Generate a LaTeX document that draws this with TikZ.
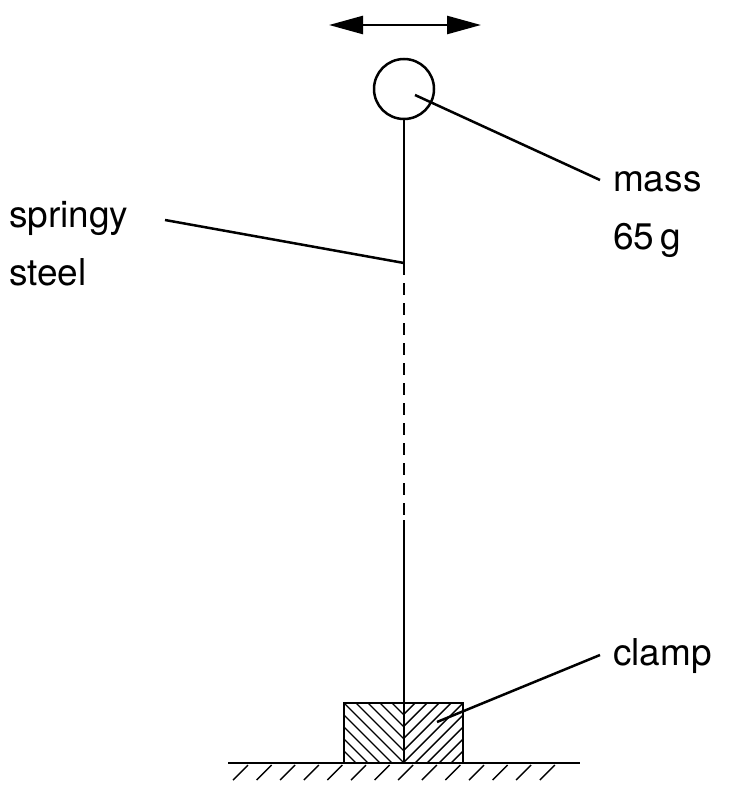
\documentclass[tikz,border=0pt]{standalone}
\usepackage{fontspec}
\setmainfont{TeX Gyre Heros}
\usetikzlibrary{arrows.meta}
\begin{document}
\begin{tikzpicture}[x=1pt,y=-1pt,line width=2.2pt,
  lab/.style={font=\fontsize{37}{44}\selectfont,align=left,inner sep=0pt},
  thin/.style={line width=1.4pt}]
\useasboundingbox (0,0) rectangle (743,795);
% arrow
\coordinate (al) at (329,25); \coordinate (ar) at (481,25);
\draw[line width=2.5pt,{Triangle[length=34pt,width=18pt]}-{Triangle[length=34pt,width=18pt]}] (al) -- (ar);
% mass
\node[circle,draw,minimum size=60pt,inner sep=0pt,line width=2.5pt] (m) at (404,89) {};
\coordinate (r1) at (404,263); \coordinate (r2) at (404,520); \coordinate (r3) at (404,703);
\draw (m.south) -- (r1);
\draw[dash pattern=on 12pt off 8pt] (r1) -- (r2);
\draw (r2) -- (r3);
% clamp
\node[draw,minimum width=119pt,minimum height=60pt,inner sep=0pt,line width=2.5pt] (c) at (403.5,733) {};
\begin{scope}
\clip (344,703) rectangle (404,763);
\foreach \i in {-60,-48,...,72} \draw[thin] (344+\i,703) -- (404+\i,763);
\end{scope}
\begin{scope}
\clip (404,703) rectangle (463,763);
\foreach \i in {-60,-48,...,72} \draw[thin] (463-\i,703) -- (403-\i,763);
\end{scope}
\draw (404,703) -- (404,763);
% ground
\coordinate (g1) at (228,763); \coordinate (g2) at (580,763);
\draw[line width=2.5pt] (g1) -- (g2);
\foreach \k in {0,...,13} \draw[thin] (248+23.6*\k,765) -- (233+23.6*\k,780);
% labels
\node[lab,anchor=west] (ml) at (612,182) {mass};
\node[lab,anchor=west] (mg) at (612,240) {65\,g};
\node[lab,anchor=west] (sp) at (8,218) {springy};
\node[lab,anchor=west] (st) at (8,272) {steel};
\node[lab,anchor=west] (cl) at (612,656) {clamp};
\coordinate (mi) at (415,95); \coordinate (ci) at (437,722);
\draw[line width=2.5pt] (mi) -- (600,180);
\draw[line width=2.5pt] (165,220) -- (r1);
\draw[line width=2.5pt] (ci) -- (600,655);
\end{tikzpicture}
\end{document}
